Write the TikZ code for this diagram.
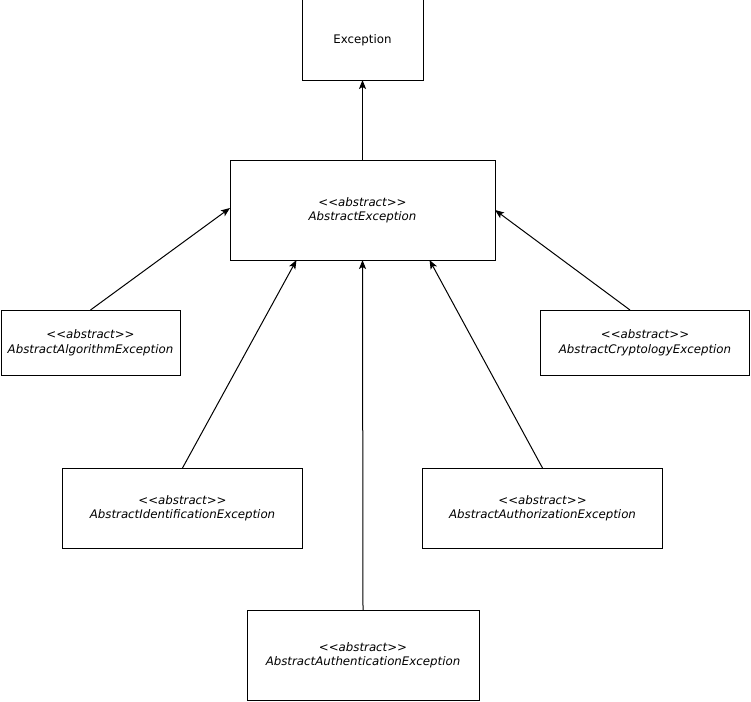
\documentclass[tikz,border=0pt]{standalone}
\usepackage{fontspec}
\setmainfont{DejaVu Sans}
\usetikzlibrary{arrows.meta}
\begin{document}
\begin{tikzpicture}[x=1pt,y=-1pt,
  box/.style={draw=black, line width=1pt, fill=white, inner sep=0pt, outer sep=0pt,
    align=center, font=\fontsize{11.8}{14.5}\selectfont},
  abs/.style={box, font=\fontsize{11.8}{14.5}\selectfont\itshape},
  inh/.style={draw=black, line width=1pt, -{Stealth[length=9pt,width=7pt,inset=2pt]}}]
\useasboundingbox (0,0) rectangle (751,701);
\node[box, minimum width=121pt, minimum height=80pt] (ex) at (362.5,40) {Exception};
\node[abs, minimum width=265pt, minimum height=100pt] (ae) at (362.5,210) {<{}<abstract>{}>\\AbstractException};
\node[abs, minimum width=179pt, minimum height=65pt] (alg) at (90.5,342.5) {<{}<abstract>{}>\\AbstractAlgorithmException};
\node[abs, minimum width=209pt, minimum height=65pt] (cry) at (645,342.5) {<{}<abstract>{}>\\AbstractCryptologyException};
\node[abs, minimum width=240pt, minimum height=80pt] (idf) at (182.5,508) {<{}<abstract>{}>\\AbstractIdentificationException};
\node[abs, minimum width=240pt, minimum height=80pt] (atz) at (542.5,508) {<{}<abstract>{}>\\AbstractAuthorizationException};
\node[abs, minimum width=232pt, minimum height=90pt] (atn) at (363,655) {<{}<abstract>{}>\\AbstractAuthenticationException};
\draw[inh] (ae.north) -- (ex.south);
\draw[inh] (alg.north) -- ([yshift=2pt]ae.west);
\draw[inh] ([xshift=-15pt]cry.north) -- (ae.east);
\draw[inh] (idf.north) -- ([xshift=-66pt]ae.south);
\draw[inh] (atz.north) -- ([xshift=67pt]ae.south);
\draw[inh] (atn.north) -- (ae.south);
\end{tikzpicture}
\end{document}
